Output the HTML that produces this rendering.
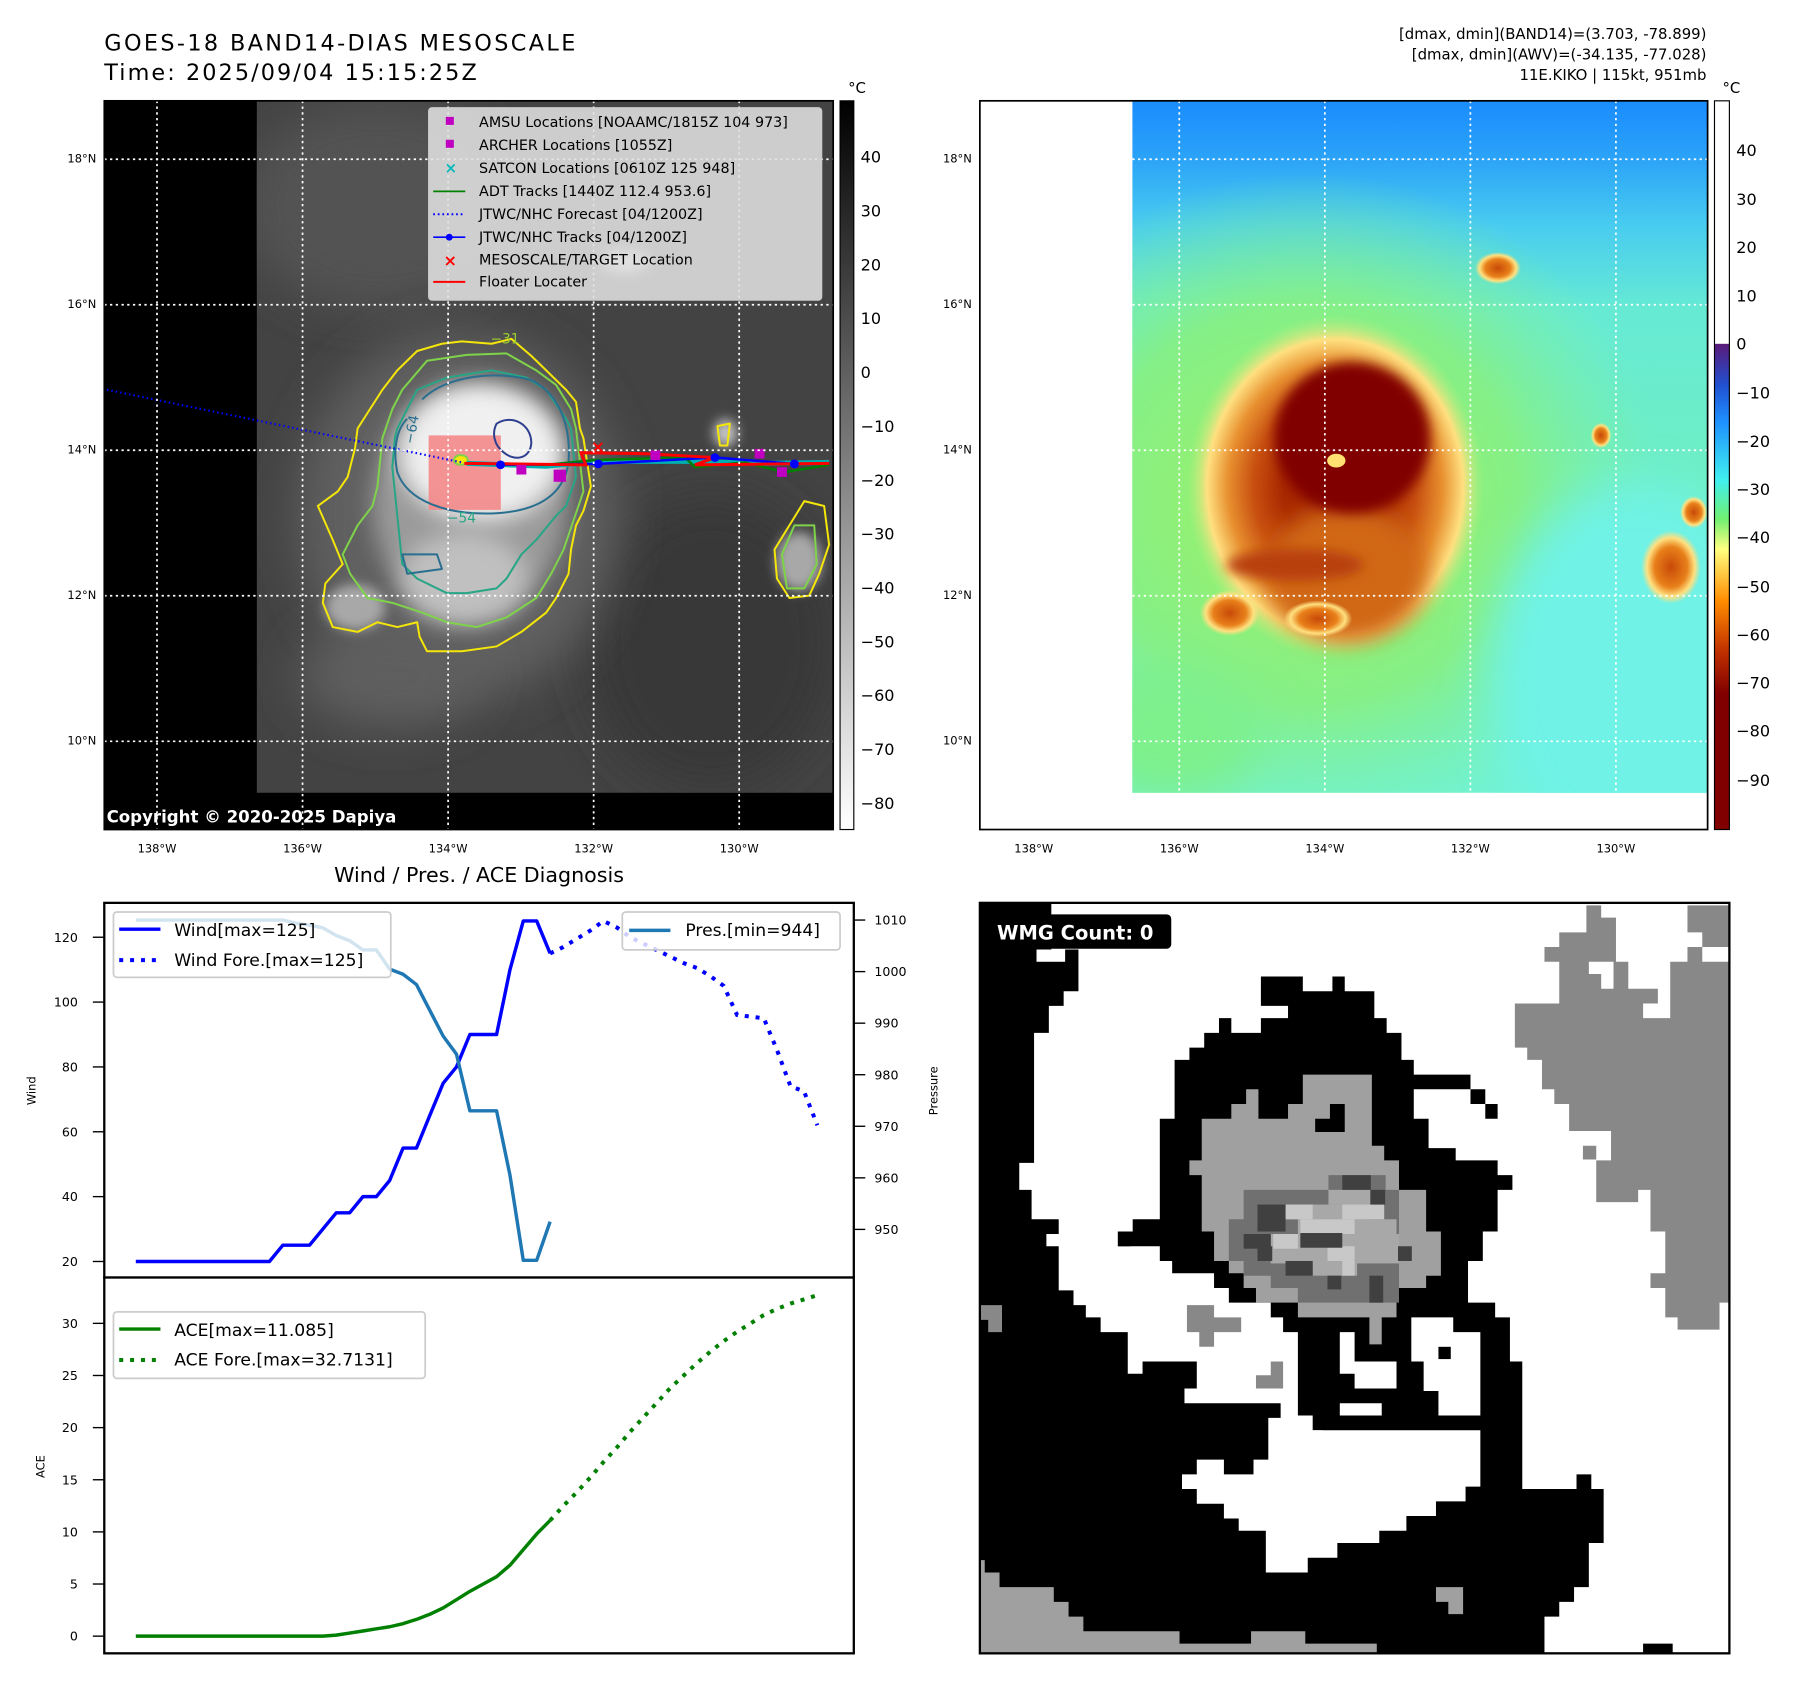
<!DOCTYPE html>
<html><head><meta charset="utf-8"><title>GOES-18 BAND14 Kiko</title>
<style>
html,body{margin:0;padding:0;background:#fff;}
svg{display:block;font-family:"DejaVu Sans","Liberation Sans",sans-serif;}
</style></head>
<body>
<svg id="root" width="1797" height="1690" viewBox="0 0 1568 1475" preserveAspectRatio="none" xmlns="http://www.w3.org/2000/svg">
<defs>
  <linearGradient id="cbGray" x1="0" y1="0" x2="0" y2="1">
    <stop offset="0" stop-color="#000"/><stop offset="1" stop-color="#fff"/>
  </linearGradient>
  <linearGradient id="cbColor" x1="0" y1="0" x2="0" y2="1">
    <stop offset="0" stop-color="#ffffff"/><stop offset="0.333" stop-color="#ffffff"/>
    <stop offset="0.334" stop-color="#5a1a7a"/><stop offset="0.39" stop-color="#2050d0"/>
    <stop offset="0.44" stop-color="#1e90ff"/><stop offset="0.52" stop-color="#40f0f0"/>
    <stop offset="0.574" stop-color="#70f070"/><stop offset="0.615" stop-color="#ffff80"/>
    <stop offset="0.687" stop-color="#ff8c00"/><stop offset="0.755" stop-color="#c03000"/>
    <stop offset="0.814" stop-color="#800000"/><stop offset="1" stop-color="#800000"/>
  </linearGradient>
  <linearGradient id="rmBg" x1="0" y1="0" x2="0" y2="1">
    <stop offset="0" stop-color="#1a8cff"/><stop offset="0.08" stop-color="#2aa2f8"/>
    <stop offset="0.18" stop-color="#48ccf0"/><stop offset="0.3" stop-color="#66ead4"/>
    <stop offset="0.6" stop-color="#70f0c0"/><stop offset="1" stop-color="#72f2d0"/>
  </linearGradient>
  <radialGradient id="rmGreen" cx="0.5" cy="0.5" r="0.5">
    <stop offset="0" stop-color="#a0f060"/><stop offset="0.6" stop-color="#88f080" stop-opacity="0.9"/>
    <stop offset="1" stop-color="#80f0a0" stop-opacity="0"/>
  </radialGradient>
  <radialGradient id="rmStorm" cx="0.5" cy="0.5" r="0.5">
    <stop offset="0" stop-color="#9a1800"/><stop offset="0.35" stop-color="#a82800"/>
    <stop offset="0.55" stop-color="#c85010"/><stop offset="0.72" stop-color="#e89030"/>
    <stop offset="0.86" stop-color="#ffe080"/><stop offset="1" stop-color="#b0f080" stop-opacity="0"/>
  </radialGradient>
  <radialGradient id="cellG" cx="0.5" cy="0.5" r="0.5">
    <stop offset="0" stop-color="#c84a08"/><stop offset="0.55" stop-color="#e8801a"/>
    <stop offset="0.8" stop-color="#ffe080"/><stop offset="1" stop-color="#ffe080" stop-opacity="0"/>
  </radialGradient>
  <filter id="blur20" x="-50%" y="-50%" width="200%" height="200%"><feGaussianBlur stdDeviation="20"/></filter>
  <filter id="blur10" x="-50%" y="-50%" width="200%" height="200%"><feGaussianBlur stdDeviation="10"/></filter>
  <filter id="blur5" x="-50%" y="-50%" width="200%" height="200%"><feGaussianBlur stdDeviation="5"/></filter>
  <clipPath id="clipL"><rect x="224" y="88" width="503" height="604"/></clipPath>
  <clipPath id="clipLA"><rect x="91" y="88" width="636" height="636"/></clipPath>
  <clipPath id="clipR"><rect x="988" y="88" width="502" height="604"/></clipPath>
  <clipPath id="clipW"><rect x="855" y="788" width="654" height="655"/></clipPath>
</defs>

<!-- Titles -->
<text x="91" y="44" font-size="19.5" textLength="411">GOES-18 BAND14-DIAS MESOSCALE</text>
<text x="91" y="70" font-size="19.5" textLength="325">Time: 2025/09/04 15:15:25Z</text>
<g font-size="13" text-anchor="end">
  <text x="1489" y="34">[dmax, dmin](BAND14)=(3.703, -78.899)</text>
  <text x="1489" y="52">[dmax, dmin](AWV)=(-34.135, -77.028)</text>
  <text x="1489" y="70">11E.KIKO | 115kt, 951mb</text>
</g>

<!-- LEFT MAP -->
<g>
  <rect x="91" y="88" width="636" height="636" fill="#000"/>
  <g clip-path="url(#clipL)">
    <rect x="224" y="88" width="503" height="604" fill="#434343"/>
    <ellipse cx="330" cy="180" rx="120" ry="90" fill="#525252" filter="url(#blur20)"/>
    <ellipse cx="620" cy="560" rx="110" ry="130" fill="#383838" filter="url(#blur20)"/>
    <ellipse cx="400" cy="450" rx="140" ry="160" fill="#606060" filter="url(#blur20)"/>
    <ellipse cx="340" cy="590" rx="80" ry="45" fill="#5e5e5e" filter="url(#blur20)"/>
    <ellipse cx="410" cy="440" rx="85" ry="100" fill="#9a9a9a" filter="url(#blur10)"/>
    <ellipse cx="420" cy="395" rx="72" ry="60" fill="#f0f0f0" filter="url(#blur10)"/>
    <ellipse cx="405" cy="505" rx="55" ry="40" fill="#c0c0c0" filter="url(#blur10)"/>
    <ellipse cx="545" cy="228" rx="22" ry="10" fill="#e0e0e0" filter="url(#blur5)"/>
    <ellipse cx="310" cy="530" rx="26" ry="20" fill="#a8a8a8" filter="url(#blur5)"/>
    <ellipse cx="697" cy="490" rx="20" ry="26" fill="#a8a8a8" filter="url(#blur5)"/>
    <ellipse cx="633" cy="378" rx="10" ry="12" fill="#c8c8c8" filter="url(#blur5)"/>
  </g>
  <rect x="374" y="380" width="63" height="65" fill="#f48888" fill-opacity="0.9"/>
  <g clip-path="url(#clipLA)">
    <g transform="translate(86.8,78.1) scale(0.4331,0.4227)" fill="none" stroke-linejoin="round">
      <path d="M640,540 L690,525 L730,520 L790,525 L830,515 L870,550 L900,580 L940,620 L960,645 L968,700 L975,720 L990,820 L975,870 L960,900 L950,950 L945,1000 L920,1050 L900,1080 L850,1120 L800,1150 L730,1160 L660,1160 L645,1130 L640,1100 L600,1110 L560,1100 L520,1120 L470,1110 L450,1060 L455,1020 L490,980 L470,930 L440,860 L480,830 L500,800 L515,740 L520,700 L545,660 L570,620 L600,580 Z" stroke="#f5e60a" stroke-width="2" vector-effect="non-scaling-stroke"/>
      <path d="M1245,695 L1270,690 L1265,735 L1250,735 Z" stroke="#f5e60a" stroke-width="2" vector-effect="non-scaling-stroke"/>
      <path d="M1420,850 L1460,860 L1470,940 L1450,1000 L1430,1045 L1390,1050 L1365,1010 L1360,950 L1390,900 Z" stroke="#f5e60a" stroke-width="2" vector-effect="non-scaling-stroke"/>
      <path d="M660,560 L740,548 L820,545 L880,580 L920,610 L950,660 L960,700 L975,830 L955,890 L935,950 L910,1000 L880,1050 L820,1090 L760,1110 L700,1100 L650,1080 L590,1060 L540,1050 L505,1000 L490,960 L520,900 L550,860 L560,820 L570,720 L590,660 L610,620 Z" stroke="#7fd34a" stroke-width="2" vector-effect="non-scaling-stroke"/>
      <path d="M1400,900 L1440,900 L1445,980 L1420,1030 L1385,1030 L1375,960 Z" stroke="#7fd34a" stroke-width="2" vector-effect="non-scaling-stroke"/>
      <path d="M640,620 L700,595 L790,580 L860,595 L900,620 L940,680 L950,700 L960,800 L940,860 L920,880 L880,930 L850,960 L820,1010 L800,1030 L740,1040 L700,1040 L640,1010 L610,980 L605,930 L600,880 L590,780 L595,720 L600,700 Z" stroke="#27a585" stroke-width="2" vector-effect="non-scaling-stroke"/>
      <path d="M650,640 C700,590 800,580 870,600 C930,630 950,700 945,770 C935,840 880,870 800,875 C700,880 620,850 600,790 C590,740 600,700 620,680" stroke="#2a6f8f" stroke-width="2" vector-effect="non-scaling-stroke"/>
      <path d="M800,690 C830,670 870,690 870,730 C868,760 840,770 815,750 C795,735 790,710 800,690 Z" stroke="#2f3f8f" stroke-width="2" vector-effect="non-scaling-stroke"/>
      <path d="M610,960 L680,960 L690,990 L620,1000 Z" stroke="#2a6f8f" stroke-width="2" vector-effect="non-scaling-stroke"/>
      <ellipse cx="728" cy="765" rx="14" ry="10" fill="#f5e60a" stroke="#7fd34a" stroke-width="2" vector-effect="non-scaling-stroke"/>
    </g>
  </g>
  <g clip-path="url(#clipLA)">
    <g transform="translate(86.8,78.1) scale(0.4331,0.4227)" fill="none">
      <path d="M15,620 L730,770" stroke="#0000ff" stroke-width="2.2" stroke-dasharray="1.5 3" vector-effect="non-scaling-stroke"/>
      <path d="M740,772 L900,778 L1000,768 L1200,768 L1330,772 L1470,770" stroke="#00b0b0" stroke-width="5" vector-effect="non-scaling-stroke"/>
      <path d="M740,772 L900,775 L1000,765 L1180,760 L1200,780 L1300,770 L1380,790 L1470,775" stroke="#008000" stroke-width="2.5" vector-effect="non-scaling-stroke"/>
      <path d="M800,775 L1005,773 L1240,760 L1400,773 L1470,772" stroke="#0000ff" stroke-width="2.5" vector-effect="non-scaling-stroke"/>
      <path d="M735,772 L980,775 L970,750 L1100,752 L1240,760 L1200,775 L1470,772" stroke="#ff0000" stroke-width="3" vector-effect="non-scaling-stroke"/>
      <g fill="#0000ff"><circle cx="1005" cy="773" r="9"/><circle cx="1240" cy="760" r="9"/><circle cx="1400" cy="773" r="9"/><circle cx="808" cy="775" r="9"/></g>
      <g fill="#c000c0"><rect x="915" y="785" width="25" height="25"/><rect x="840" y="775" width="20" height="20"/><rect x="1320" y="742" width="20" height="20"/><rect x="1365" y="780" width="20" height="20"/><rect x="1110" y="745" width="20" height="20"/></g>
      <text x="990" y="750" fill="#ff0000" font-size="34" font-weight="bold">×</text>
    </g>
  </g>
  <g stroke="#fff" stroke-width="1.5" stroke-dasharray="2 3">
    <line x1="137" y1="88" x2="137" y2="724"/><line x1="264" y1="88" x2="264" y2="724"/><line x1="391" y1="88" x2="391" y2="724"/><line x1="518" y1="88" x2="518" y2="724"/><line x1="645" y1="88" x2="645" y2="724"/>
    <line x1="91" y1="139" x2="727" y2="139"/><line x1="91" y1="266" x2="727" y2="266"/><line x1="91" y1="393" x2="727" y2="393"/><line x1="91" y1="520" x2="727" y2="520"/><line x1="91" y1="647" x2="727" y2="647"/>
  </g>
  <g font-size="12">
    <text x="428" y="300" fill="#9acd32">−31</text>
    <text x="390" y="456" fill="#27a585">−54</text>
    <text x="361" y="388" fill="#2a6f8f" transform="rotate(-80 361 388)">−64</text>
  </g>
  <g>
    <rect x="374" y="94" width="343" height="168" rx="3" fill="#e0e0e0" fill-opacity="0.88" stroke="#ccc"/>
    <g font-size="12.5" fill="#000">
      <rect x="389" y="102" width="7" height="7" fill="#c000c0"/><text x="418" y="111">AMSU Locations [NOAAMC/1815Z 104 973]</text>
      <rect x="389" y="122" width="7" height="7" fill="#c000c0"/><text x="418" y="131">ARCHER Locations [1055Z]</text>
      <text x="388" y="151" fill="#00b8b8" font-size="13" font-weight="bold">×</text><text x="418" y="151">SATCON Locations [0610Z 125 948]</text>
      <line x1="378" y1="167" x2="406" y2="167" stroke="#008000" stroke-width="1.5"/><text x="418" y="171">ADT Tracks [1440Z 112.4 953.6]</text>
      <line x1="378" y1="187" x2="406" y2="187" stroke="#0000ff" stroke-width="1.8" stroke-dasharray="1.5 2.5"/><text x="418" y="191">JTWC/NHC Forecast [04/1200Z]</text>
      <line x1="378" y1="207" x2="406" y2="207" stroke="#0000ff" stroke-width="1.5"/><circle cx="392" cy="207" r="3" fill="#0000ff"/><text x="418" y="211">JTWC/NHC Tracks [04/1200Z]</text>
      <text x="387" y="232" fill="#ff0000" font-size="14" font-weight="bold">×</text><text x="418" y="231">MESOSCALE/TARGET Location</text>
      <line x1="378" y1="246" x2="406" y2="246" stroke="#ff0000" stroke-width="1.8"/><text x="418" y="250">Floater Locater</text>
    </g>
  </g>
  <text x="93" y="718" fill="#fff" font-size="14.5" font-weight="bold">Copyright © 2020-2025 Dapiya</text>
  <rect x="91" y="88" width="636" height="636" fill="none" stroke="#000" stroke-width="1.5"/>
  <g font-size="10" text-anchor="end">
    <text x="84" y="142">18°N</text><text x="84" y="269">16°N</text><text x="84" y="396">14°N</text><text x="84" y="523">12°N</text><text x="84" y="650">10°N</text>
  </g>
  <g font-size="10" text-anchor="middle">
    <text x="137" y="744">138°W</text><text x="264" y="744">136°W</text><text x="391" y="744">134°W</text><text x="518" y="744">132°W</text><text x="645" y="744">130°W</text>
  </g>
  <g>
    <rect x="733" y="88" width="12" height="636" fill="url(#cbGray)" stroke="#000" stroke-width="1"/>
    <text x="740" y="81" font-size="13">°C</text>
    <g font-size="14">
      <text x="751" y="142">40</text><text x="751" y="189">30</text><text x="751" y="236">20</text><text x="751" y="283">10</text><text x="751" y="330">0</text>
      <text x="751" y="377">−10</text><text x="751" y="424">−20</text><text x="751" y="471">−30</text><text x="751" y="518">−40</text><text x="751" y="565">−50</text><text x="751" y="612">−60</text><text x="751" y="659">−70</text><text x="751" y="706">−80</text>
    </g>
  </g>
</g>

<!-- RIGHT MAP -->
<g>
  <rect x="855" y="88" width="635" height="636" fill="#fff"/>
  <g clip-path="url(#clipR)">
    <rect x="988" y="88" width="502" height="604" fill="url(#rmBg)"/>
    <ellipse cx="1140" cy="440" rx="310" ry="290" fill="url(#rmGreen)"/>
    <ellipse cx="1430" cy="590" rx="130" ry="170" fill="#70f2e6" filter="url(#blur20)"/>
    <ellipse cx="1020" cy="640" rx="80" ry="60" fill="#7ef08c" filter="url(#blur20)"/>
    <ellipse cx="1165" cy="425" rx="130" ry="150" fill="url(#rmStorm)"/>
    <ellipse cx="1175" cy="500" rx="70" ry="60" fill="#d06818" filter="url(#blur10)"/>
    <ellipse cx="1130" cy="493" rx="60" ry="14" fill="#b84010" filter="url(#blur5)"/>
    <ellipse cx="1180" cy="382" rx="68" ry="66" fill="#800000" filter="url(#blur5)"/>
    <ellipse cx="1166" cy="402" rx="8" ry="6" fill="#ffe070"/>
    <ellipse cx="1307" cy="234" rx="20" ry="14" fill="url(#cellG)"/>
    <ellipse cx="1458" cy="495" rx="26" ry="32" fill="url(#cellG)"/>
    <ellipse cx="1397" cy="380" rx="9" ry="11" fill="url(#cellG)"/>
    <ellipse cx="1073" cy="535" rx="26" ry="20" fill="url(#cellG)"/>
    <ellipse cx="1478" cy="447" rx="12" ry="14" fill="url(#cellG)"/>
    <ellipse cx="1150" cy="540" rx="30" ry="16" fill="url(#cellG)"/>
  </g>
  <g stroke="#fff" stroke-width="1.5" stroke-dasharray="2 3" clip-path="url(#clipR)">
    <line x1="1029" y1="88" x2="1029" y2="692"/><line x1="1156" y1="88" x2="1156" y2="692"/><line x1="1283" y1="88" x2="1283" y2="692"/><line x1="1410" y1="88" x2="1410" y2="692"/>
    <line x1="988" y1="139" x2="1490" y2="139"/><line x1="988" y1="266" x2="1490" y2="266"/><line x1="988" y1="393" x2="1490" y2="393"/><line x1="988" y1="520" x2="1490" y2="520"/><line x1="988" y1="647" x2="1490" y2="647"/>
  </g>
  <rect x="855" y="88" width="635" height="636" fill="none" stroke="#000" stroke-width="1.5"/>
  <g font-size="10" text-anchor="end">
    <text x="848" y="142">18°N</text><text x="848" y="269">16°N</text><text x="848" y="396">14°N</text><text x="848" y="523">12°N</text><text x="848" y="650">10°N</text>
  </g>
  <g font-size="10" text-anchor="middle">
    <text x="902" y="744">138°W</text><text x="1029" y="744">136°W</text><text x="1156" y="744">134°W</text><text x="1283" y="744">132°W</text><text x="1410" y="744">130°W</text>
  </g>
  <g>
    <rect x="1496" y="88" width="13" height="636" fill="url(#cbColor)" stroke="#000" stroke-width="1"/>
    <text x="1503" y="81" font-size="13">°C</text>
    <g font-size="14">
      <text x="1515" y="136">40</text><text x="1515" y="179">30</text><text x="1515" y="221">20</text><text x="1515" y="263">10</text><text x="1515" y="305">0</text>
      <text x="1515" y="348">−10</text><text x="1515" y="390">−20</text><text x="1515" y="432">−30</text><text x="1515" y="474">−40</text><text x="1515" y="517">−50</text><text x="1515" y="559">−60</text><text x="1515" y="601">−70</text><text x="1515" y="643">−80</text><text x="1515" y="686">−90</text>
    </g>
  </g>
</g>

<!-- WIND / PRES / ACE -->
<text x="418" y="770" font-size="18" text-anchor="middle">Wind / Pres. / ACE Diagnosis</text>
<g id="chart">
  <rect x="91" y="788" width="654" height="327" fill="#fff" stroke="#000" stroke-width="2"/>
  <rect x="91" y="1115" width="654" height="328" fill="#fff" stroke="#000" stroke-width="2"/>
  <g id="ticks" font-size="11"></g>
  <text x="31" y="952" font-size="10" text-anchor="middle" transform="rotate(-90 31 952)">Wind</text>
  <text x="818" y="952" font-size="10" text-anchor="middle" transform="rotate(-90 818 952)">Pressure</text>
  <text x="39" y="1280" font-size="10" text-anchor="middle" transform="rotate(-90 39 1280)">ACE</text>
  <g id="series"></g>
  <g>
    <rect x="99" y="796" width="242" height="57" rx="3" fill="#fff" fill-opacity="0.8" stroke="#ccc" stroke-width="1.5"/>
    <line x1="104" y1="811" x2="140" y2="811" stroke="#0000ff" stroke-width="3"/>
    <text x="152" y="817" font-size="15">Wind[max=125]</text>
    <line x1="104" y1="838" x2="140" y2="838" stroke="#0000ff" stroke-width="3.5" stroke-dasharray="3.5 6"/>
    <text x="152" y="843" font-size="15">Wind Fore.[max=125]</text>
  </g>
  <g>
    <rect x="543" y="796" width="190" height="33" rx="3" fill="#fff" fill-opacity="0.8" stroke="#ccc" stroke-width="1.5"/>
    <line x1="549" y1="812" x2="585" y2="812" stroke="#1f77b4" stroke-width="3"/>
    <text x="598" y="817" font-size="15">Pres.[min=944]</text>
  </g>
  <g>
    <rect x="99" y="1145" width="272" height="58" rx="3" fill="#fff" fill-opacity="0.8" stroke="#ccc" stroke-width="1.5"/>
    <line x1="104" y1="1160" x2="140" y2="1160" stroke="#008000" stroke-width="3"/>
    <text x="152" y="1166" font-size="15">ACE[max=11.085]</text>
    <line x1="104" y1="1187" x2="140" y2="1187" stroke="#008000" stroke-width="3.5" stroke-dasharray="3.5 6"/>
    <text x="152" y="1192" font-size="15">ACE Fore.[max=32.7131]</text>
  </g>
</g>

<!-- WMG -->
<g>
  <g clip-path="url(#clipW)">
    <rect x="855" y="788" width="654" height="655" fill="#000"/>
    <g transform="translate(852.8,785.9) scale(0.4303,0.4281)">
      <path fill="#fff" d="M150,5 L1525,5 L1525,1535 L1150,1535 L1150,1460 L1180,1460 L1180,1430 L1210,1430 L1210,1400 L1240,1400 L1240,1310 L1270,1310 L1270,1200 L1245,1200 L1245,1170 L1215,1170 L1215,1200 L1105,1200 L1105,940 L1080,940 L1080,850 L1050,850 L1050,820 L995,820 L995,735 L1025,735 L1025,675 L1055,675 L1055,590 L1085,590 L1085,560 L1055,560 L1055,530 L970,530 L970,505 L915,505 L915,445 L885,445 L885,385 L1000,385 L1000,355 L885,355 L885,325 L860,325 L860,270 L830,270 L830,240 L805,240 L805,185 L745,185 L745,155 L720,155 L720,185 L660,185 L660,155 L575,155 L575,215 L630,215 L630,240 L575,240 L575,270 L515,270 L515,240 L490,240 L490,270 L460,270 L460,300 L430,300 L430,325 L400,325 L400,445 L370,445 L370,650 L315,650 L315,675 L285,675 L285,705 L370,705 L370,735 L395,735 L395,760 L480,760 L480,790 L510,790 L510,820 L595,820 L595,850 L620,850 L620,880 L650,880 L650,1050 L680,1050 L680,1080 L1020,1080 L1020,1195 L990,1195 L990,1225 L930,1225 L930,1255 L870,1255 L870,1285 L815,1285 L815,1310 L730,1310 L730,1340 L670,1340 L670,1370 L585,1370 L585,1285 L530,1285 L530,1260 L500,1260 L500,1230 L445,1230 L445,1200 L415,1200 L415,1170 L445,1170 L445,1140 L500,1140 L500,1170 L560,1170 L560,1140 L590,1140 L590,1055 L615,1055 L615,1025 L420,1025 L420,995 L445,995 L445,940 L335,940 L335,965 L305,965 L305,880 L250,880 L250,850 L220,850 L220,825 L195,825 L195,795 L165,795 L165,705 L140,705 L140,680 L165,680 L165,650 L110,650 L110,590 L85,590 L85,535 L115,535 L115,270 L145,270 L145,215 L175,215 L175,185 L205,185 L205,100 L150,100 Z"/>
      <path fill="#000" d="M1000,385 L1030,385 L1030,445 L1055,445 L1055,415 L1000,415 Z M285,675 L310,675 L310,705 L285,705 Z M1350,1515 L1410,1515 L1410,1535 L1350,1535 Z"/>
      <path fill="#fff" d="M735,880 L765,880 L765,965 L735,965 Z M765,940 L850,940 L850,995 L765,995 Z M880,850 L965,850 L965,880 L1020,880 L1020,1050 L935,1050 L935,1000 L905,1000 L905,940 L880,940 Z M735,1025 L820,1025 L820,1050 L735,1050 Z M680,1080 L700,1080 L700,1110 L680,1110 Z"/>
      <path fill="#000" d="M935,910 L960,910 L960,935 L935,935 Z"/>
      <rect x="120" y="100" width="58" height="25" fill="#fff"/>
      <path fill="#888" d="M1090,210 L1180,210 L1180,125 L1150,125 L1150,95 L1180,95 L1180,65 L1235,65 L1235,10 L1265,10 L1265,35 L1295,35 L1295,125 L1320,125 L1320,180 L1380,180 L1380,210 L1405,210 L1405,125 L1440,125 L1440,95 L1470,95 L1470,65 L1440,65 L1440,10 L1525,10 L1525,820 L1505,820 L1505,875 L1420,875 L1420,850 L1395,850 L1395,790 L1365,790 L1365,760 L1395,760 L1395,675 L1365,675 L1365,590 L1340,590 L1340,615 L1255,615 L1255,530 L1285,530 L1285,470 L1200,470 L1200,415 L1170,415 L1170,385 L1145,385 L1145,325 L1115,325 L1115,300 L1090,300 Z M1228,500 L1255,500 L1255,528 L1228,528 Z"/>
      <path fill="#fff" d="M1350,210 L1405,210 L1405,240 L1350,240 Z M1240,125 L1290,125 L1290,180 L1265,180 L1265,150 L1240,150 Z M1470,95 L1525,95 L1525,125 L1470,125 Z"/>
      <path fill="#a0a0a0" d="M5,1345 L15,1345 L15,1370 L45,1370 L45,1400 L155,1400 L155,1430 L185,1430 L185,1460 L215,1460 L215,1490 L410,1490 L410,1515 L555,1515 L555,1490 L665,1490 L665,1515 L810,1515 L810,1535 L5,1535 Z M930,1400 L985,1400 L985,1455 L955,1455 L955,1430 L930,1430 Z"/>
      <path fill="#888" d="M5,825 L50,825 L50,880 L22,880 L22,855 L5,855 Z M425,825 L480,825 L480,850 L535,850 L535,880 L480,880 L480,910 L450,910 L450,880 L425,880 Z M595,940 L620,940 L620,995 L565,995 L565,968 L595,968 Z"/>
      <path fill="#a0a0a0" d="M455,445 L515,445 L515,415 L545,415 L545,385 L570,385 L570,445 L630,445 L630,415 L660,415 L660,355 L800,355 L800,500 L825,500 L825,530 L855,530 L855,590 L910,590 L910,675 L940,675 L940,765 L910,765 L910,790 L850,790 L850,850 L820,850 L820,905 L795,905 L795,850 L650,850 L650,820 L565,820 L565,790 L540,790 L540,760 L510,760 L510,735 L480,735 L480,675 L455,675 L455,560 L430,560 L430,530 L455,530 Z"/>
      <path fill="#000" d="M715,415 L745,415 L745,472 L685,472 L685,445 L715,445 Z"/>
      <path fill="#707070" d="M540,590 L712,590 L712,560 L828,560 L828,590 L855,590 L855,820 L650,820 L650,790 L595,790 L595,765 L540,765 L540,735 L510,735 L510,650 L540,650 Z"/>
      <g fill="#a8a8a8"><rect x="712" y="590" width="85" height="30"/><rect x="625" y="620" width="170" height="30"/><rect x="650" y="650" width="200" height="30"/><rect x="595" y="680" width="260" height="60"/><rect x="680" y="735" width="90" height="30"/></g>
      <g fill="#c8c8c8"><rect x="625" y="620" width="55" height="30"/><rect x="740" y="620" width="85" height="30"/><rect x="655" y="650" width="110" height="30"/><rect x="710" y="705" width="55" height="30"/><rect x="600" y="680" width="50" height="30"/><rect x="740" y="735" width="25" height="30"/></g>
      <g fill="#404040"><rect x="740" y="560" width="58" height="30"/><rect x="797" y="590" width="30" height="30"/><rect x="568" y="620" width="57" height="55"/><rect x="540" y="680" width="55" height="30"/><rect x="655" y="678" width="85" height="30"/><rect x="568" y="705" width="30" height="30"/><rect x="625" y="735" width="55" height="30"/><rect x="853" y="705" width="28" height="30"/><rect x="795" y="765" width="28" height="55"/><rect x="710" y="765" width="28" height="28"/></g>
    </g>
  </g>
  <rect x="855" y="788" width="654" height="655" fill="none" stroke="#000" stroke-width="2"/>
  <rect x="862" y="798" width="160" height="30" rx="4" fill="#000"/>
  <text x="870" y="820" fill="#fff" font-size="17" font-weight="bold">WMG Count: 0</text>
</g>

<script>
const windObs = [20,20,20,20,20,20,20,20,20,20,20,25,25,25,30,35,35,40,40,45,55,55,65,75,80,90,90,90,110,125,125,115];
const windFore = [115,117,119.5,122,125,123,120,118,116,114,112,110.5,108,105,96,95.5,95,85,74,72.5,62];
const presObs = [1010,1010,1010,1010,1010,1010,1010,1010,1010,1010,1010,1010,1009.4,1009,1008.5,1007,1006,1004.2,1004.2,1000.5,999.5,997.5,992.5,987.5,984,973,973,973,960.5,944,944,951.5];
const aceObs = [0,0,0,0,0,0,0,0,0,0,0,0,0,0,0,0.1,0.3,0.5,0.7,0.9,1.2,1.6,2.1,2.7,3.5,4.3,5.0,5.7,6.8,8.3,9.8,11.1];
const aceFore = [11.1,12.5,13.8,15.2,16.7,18.1,19.6,21.0,22.4,23.8,25.0,26.2,27.3,28.3,29.2,30.0,30.8,31.4,31.9,32.3,32.7];
const windTicks = [20,40,60,80,100,120];
const presTicks = [950,960,970,980,990,1000,1010];
const aceTicks = [0,5,10,15,20,25,30];

const NS = 'http://www.w3.org/2000/svg';
const xOf = i => 118.5 + i * 11.66;
const yW = v => 1101 - (v - 20) * 2.83;
const yP = p => 1073 - (p - 950) * 4.5;
const yA = v => 1428 - v * 9.1;

function mk(tag, attrs, parent) {
  const e = document.createElementNS(NS, tag);
  for (const k in attrs) e.setAttribute(k, attrs[k]);
  parent.appendChild(e);
  return e;
}
const ticks = document.getElementById('ticks');
const series = document.getElementById('series');

windTicks.forEach(v => {
  const l = mk('line', {x1: 81, x2: 91, y1: yW(v), y2: yW(v), stroke: '#000', 'stroke-width': 1.2}, ticks);
  
  
  const t = mk('text', {x: 68, y: yW(v) + 4, 'text-anchor': 'end'}, ticks);
  t.textContent = v;
  
  
});
presTicks.forEach(v => {
  const l = mk('line', {x1: 745, x2: 755, y1: yP(v), y2: yP(v), stroke: '#000', 'stroke-width': 1.2}, ticks);
  
  
  const t = mk('text', {x: 763, y: yP(v) + 4}, ticks);
  t.textContent = v;
  
  
});
aceTicks.forEach(v => {
  const l = mk('line', {x1: 81, x2: 91, y1: yA(v), y2: yA(v), stroke: '#000', 'stroke-width': 1.2}, ticks);
  
  
  const t = mk('text', {x: 68, y: yA(v) + 4, 'text-anchor': 'end'}, ticks);
  t.textContent = v;
  
  
});

function pts(arr, off, yf) { return arr.map((v, i) => xOf(i + off).toFixed(1) + ',' + yf(v).toFixed(1)).join(' '); }
const foreOff = windObs.length - 1;

const wl = mk('polyline', {points: pts(windObs, 0, yW), fill: 'none', stroke: '#0000ff', 'stroke-width': 3, 'stroke-linejoin': 'round'}, series);


const wf = mk('polyline', {points: pts(windFore, foreOff, yW), fill: 'none', stroke: '#0000ff', 'stroke-width': 3.5, 'stroke-dasharray': '3.5 6'}, series);


const pl = mk('polyline', {points: pts(presObs, 0, yP), fill: 'none', stroke: '#1f77b4', 'stroke-width': 3, 'stroke-linejoin': 'round'}, series);


const al = mk('polyline', {points: pts(aceObs, 0, yA), fill: 'none', stroke: '#008000', 'stroke-width': 3, 'stroke-linejoin': 'round'}, series);


const af = mk('polyline', {points: pts(aceFore, foreOff, yA), fill: 'none', stroke: '#008000', 'stroke-width': 3.5, 'stroke-dasharray': '3.5 6'}, series);


</script>
</svg>
</body></html>
